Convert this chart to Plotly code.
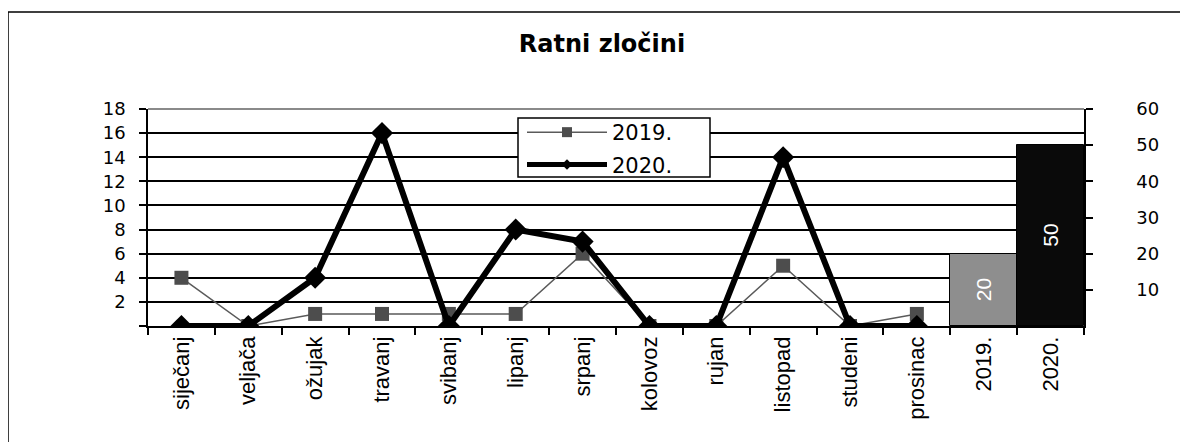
import plotly.graph_objects as go

months = ["siječanj", "veljača", "ožujak", "travanj", "svibanj", "lipanj",
          "srpanj", "kolovoz", "rujan", "listopad", "studeni", "prosinac"]
years = ["2019.", "2020."]
vals_2019 = [4, 0, 1, 1, 1, 1, 6, 0, 0, 5, 0, 1]
vals_2020 = [0, 0, 4, 16, 0, 8, 7, 0, 0, 14, 0, 0]
totals = [20, 50]
left_ticks = [0, 2, 4, 6, 8, 10, 12, 14, 16, 18]
right_ticks = [10, 20, 30, 40, 50, 60]

categories = months + years

fig = go.Figure()

fig.add_trace(go.Bar(
    x=years, y=totals, yaxis="y2",
    marker=dict(color=["#8e8e8e", "#0a0a0a"], line=dict(color="#000000", width=1)),
    width=1.0,
    text=[str(v) for v in totals],
    textposition="inside", insidetextanchor="middle", textangle=-90,
    textfont=dict(color="white", size=21, family="Liberation Sans, Arial"),
    showlegend=False, hoverinfo="skip",
))

fig.add_trace(go.Scatter(
    x=months, y=vals_2019, name="2019.", mode="lines+markers",
    line=dict(color="#5a5a5a", width=1.5),
    marker=dict(symbol="square", size=14, color="#4d4d4d"),
    showlegend=False,
))
fig.add_trace(go.Scatter(
    x=months, y=vals_2020, name="2020.", mode="lines+markers",
    line=dict(color="#000000", width=6),
    marker=dict(symbol="diamond", size=17, color="#000000"),
    showlegend=False,
))
# legend keys (smaller markers, as in the original legend)
fig.add_trace(go.Scatter(
    x=[None], y=[None], name="2019.", mode="lines+markers", legendgroup="a",
    line=dict(color="#5a5a5a", width=1.5),
    marker=dict(symbol="square", size=10, color="#4d4d4d"),
))
fig.add_trace(go.Scatter(
    x=[None], y=[None], name="2020.", mode="lines+markers", legendgroup="b",
    line=dict(color="#000000", width=5),
    marker=dict(symbol="diamond", size=8, color="#000000"),
))

OFF = 8  # page body margin
W, H = 1188 - OFF, 442 - OFF
L = 148 - OFF
R = W - (1084 - OFF)
T = 109 - OFF
B = H - (326 - OFF)
pw = W - L - R
ph = H - T - B

def px_x(px):
    return (px - OFF - L) / pw

def px_y(py):
    return (H - B - (py - OFF)) / ph

fig.update_layout(
    width=W, height=H,
    margin=dict(l=L, r=R, t=T, b=B, autoexpand=False),
    paper_bgcolor="white", plot_bgcolor="white",
    title=dict(text="<b>Ratni zločini</b>", x=(602 - OFF) / W, xanchor="center",
               xref="container",
               y=1 - (44 - OFF) / H, yanchor="middle",
               font=dict(family="DejaVu Sans", size=24, color="black")),
    xaxis=dict(type="category", categoryorder="array", categoryarray=categories,
               range=[-0.5, 13.5], automargin=False,
               tickangle=-90, tickson="boundaries", ticks="outside", ticklen=7,
               tickwidth=1.5, tickcolor="black",
               showline=True, linecolor="black", linewidth=1.5,
               showgrid=False, zeroline=False,
               tickfont=dict(family="Liberation Sans, Arial", size=22, color="black")),
    yaxis=dict(range=[0, 18], tickvals=left_ticks, automargin=False,
               ticktext=["" if v == 0 else str(v) for v in left_ticks],
               ticks="outside", ticklen=7, tickwidth=1.5, tickcolor="black",
               showline=True, linecolor="black", linewidth=1.5,
               showgrid=True, gridcolor="black", gridwidth=1.5, zeroline=False,
               ticklabelstandoff=10,
               tickfont=dict(family="DejaVu Sans", size=18, color="black")),
    yaxis2=dict(range=[0, 60], tickvals=right_ticks, overlaying="y", side="right",
                automargin=False,
                ticks="outside", ticklen=7, tickwidth=1.5, tickcolor="black",
                showline=True, linecolor="black", linewidth=1.5,
                showgrid=False, zeroline=False, ticklabelstandoff=40,
                tickfont=dict(family="DejaVu Sans", size=18, color="black")),
    legend=dict(x=px_x(522), y=px_y(112), xanchor="left", yanchor="top",
                bgcolor="rgba(0,0,0,0)", borderwidth=0,
                itemwidth=80, traceorder="grouped", tracegroupgap=2,
                font=dict(family="DejaVu Sans", size=21, color="black")),
    bargap=0,
    shapes=[
        dict(type="line", xref="paper", yref="paper", x0=0, x1=1, y0=1, y1=1,
             line=dict(color="#8a8a8a", width=2), layer="above"),
        dict(type="rect", xref="paper", yref="paper",
             x0=px_x(518), x1=px_x(710), y0=px_y(177), y1=px_y(118),
             fillcolor="white", line=dict(color="black", width=1.5), layer="above"),
        dict(type="rect", xref="paper", yref="paper",
             x0=px_x(8), x1=1.3, y0=-0.7, y1=px_y(12),
             line=dict(color="black", width=1.5), layer="above"),
    ],
)

fig.write_html("out.html")
